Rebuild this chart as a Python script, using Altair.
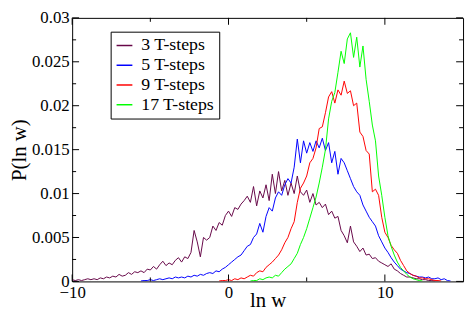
import altair as alt
import pandas as pd

# bin centres (ln w)
X = [-10.0, -9.8, -9.6, -9.4, -9.2, -9.0, -8.8, -8.6, -8.4, -8.2,
     -8.0, -7.8, -7.6, -7.4, -7.2, -7.0, -6.8, -6.6, -6.4, -6.2,
     -6.0, -5.8, -5.6, -5.4, -5.2, -5.0, -4.8, -4.6, -4.4, -4.2,
     -4.0, -3.8, -3.6, -3.4, -3.2, -3.0, -2.8, -2.6, -2.4, -2.2,
     -2.0, -1.8, -1.6, -1.4, -1.2, -1.0, -0.8, -0.6, -0.4, -0.2,
     0.0, 0.2, 0.4, 0.6, 0.8, 1.0, 1.2, 1.4, 1.6, 1.8,
     2.0, 2.2, 2.4, 2.6, 2.8, 3.0, 3.2, 3.4, 3.6, 3.8,
     4.0, 4.2, 4.4, 4.6, 4.8, 5.0, 5.2, 5.4, 5.6, 5.8,
     6.0, 6.2, 6.4, 6.6, 6.8, 7.0, 7.2, 7.4, 7.6, 7.8,
     8.0, 8.2, 8.4, 8.6, 8.8, 9.0, 9.2, 9.4, 9.6, 9.8,
     10.0, 10.2, 10.4, 10.6, 10.8, 11.0, 11.2, 11.4, 11.6, 11.8,
     12.0, 12.2, 12.4, 12.6, 12.8, 13.0, 13.2, 13.4, 13.6, 13.8,
     14.0, 14.2, 14.4]

N = None
# P(ln w) in units of 1e-4
S3 = [2, 1, 2, 1, 2, 3, 2, 3, 2, 4,
      3, 5, 4, 6, 5, 8, 6, 7, 10, 8,
      11, 10, 12, 10, 14, 13, 17, 14, 19, 23,
      18, 21, 19, 24, 27, 22, 28, 26, 33, 58,
      45, 28, 50, 47, 50, 63, 58, 67, 64, 75,
      80, 74, 84, 82, 88, 92, 97, 90, 108, 86,
      103, 95, 110, 92, 122, 100, 125, 103, 115, 98,
      112, 100, 120, 102, 98, 104, 90, 100, 87, 90,
      84, 88, 76, 80, 72, 74, 58, 52, 44, 63,
      45, 40, 34, 38, 30, 31, 26, 27, 23, 21,
      19, 17, 20, 14, 12, 9, 7, 5, 5, 4,
      3, 3, 2, 2, 1, 1, 0.5, N, N, N,
      N, N, N]
S5 = [N, N, N, N, N, N, N, N, N, N,
      N, N, N, N, N, N, N, N, N, N,
      N, N, 0.5, 1, 1, 2, 1, 2, 3, 2,
      3, 4, 3, 5, 4, 5, 4, 6, 5, 7,
      6, 8, 7, 9, 10, 9, 12, 11, 14, 16,
      19, 22, 25, 28, 30, 35, 40, 42, 50, 54,
      66, 56, 74, 84, 80, 95, 102, 98, 110, 117,
      112, 130, 162, 135, 160, 146, 158, 148, 160, 152,
      163, 149, 158, 135, 148, 122, 140, 135, 126, 117,
      108, 102, 98, 87, 80, 73, 68, 63, 52, 45,
      38, 33, 27, 22, 18, 14, 12, 10, 9, 7,
      6, 5, 5, 4, 5, 3, 3, 4, 2, 3,
      1, 0.5, N]
S9 = [N, N, N, N, N, N, N, N, N, N,
      N, N, N, N, N, N, N, N, N, N,
      N, N, N, N, N, N, N, N, N, N,
      N, N, N, N, N, N, N, N, N, N,
      N, N, N, N, N, N, N, 0.5, 1, 1,
      2, 1, 3, 2, 4, 3, 5, 7, 6, 10,
      12, 11, 16, 19, 22, 26, 30, 36, 44, 50,
      60, 68, 90, 106, 112, 120, 135, 140, 152, 174,
      176, 192, 210, 216, 203, 218, 212, 228, 214, 217,
      200, 203, 170, 165, 149, 145, 102, 105, 98, 73,
      56, 50, 41, 36, 32, 24, 18, 12, 9, 7,
      6, 4, 4, 3, 3, 2, 1, 1, 0.5, N,
      N, N, N]
S17 = [N, N, N, N, N, N, N, N, N, N,
       N, N, N, N, N, N, N, N, N, N,
       N, N, N, N, N, N, N, N, N, N,
       N, N, N, N, N, N, N, N, N, N,
       N, N, N, N, N, N, N, N, N, N,
       N, N, N, N, N, N, N, 0.5, 1, 1,
       3, 2, 4, 5, 4, 7, 6, 10, 14, 17,
       20, 26, 32, 42, 50, 60, 72, 84, 96, 112,
       130, 150, 185, 205, 215, 238, 262, 248, 276, 283,
       255, 278, 244, 268, 230, 205, 178, 160, 120, 98,
       73, 52, 40, 30, 22, 16, 12, 8, 5, 3,
       2, 1, 0.5, N, N, N, N, N, N, N,
       N, N, N]

SERIES = ["3 T-steps", "5 T-steps", "9 T-steps", "17 T-steps"]
COLORS = ["#670748", "#0000ff", "#ff0000", "#00ff00"]

X_MAJOR = [-10, 0, 10]
X_MINOR = [-5, 5]
Y_MAJOR = [0, 0.005, 0.01, 0.015, 0.02, 0.025, 0.03]
Y_MINOR = [0.0025, 0.0075, 0.0125, 0.0175, 0.0225, 0.0275]

rows = []
for name, vals in zip(SERIES, [S3, S5, S9, S17]):
    for x, v in zip(X, vals):
        if v is not None:
            rows.append({"x": x, "y": v * 1e-4, "series": name})
df = pd.DataFrame(rows)

W, H = 396, 267
FONT = "Liberation Serif"
xs = alt.Scale(domain=[-10, 15], nice=False, zero=False)
ys = alt.Scale(domain=[0, 0.03], nice=False, zero=False)

xaxis = alt.Axis(
    values=X_MAJOR, title="ln w", grid=False, ticks=False, domain=False,
    labelFont=FONT, labelFontSize=17, labelColor="black", labelPadding=3,
    labelFlush=False,
    titleFont=FONT, titleFontSize=21, titleFontWeight="normal", titleColor="black",
    titleBaseline="alphabetic", titleY=25)
yaxis = alt.Axis(
    values=Y_MAJOR, format="~g", title="P(ln w)", grid=False, ticks=False,
    domain=False, labelFont=FONT, labelFontSize=17, labelColor="black",
    labelPadding=3, labelFlush=False,
    titleFont=FONT, titleFontSize=21, titleFontWeight="normal", titleColor="black",
    titleBaseline="alphabetic", titleX=-47)

lines = alt.Chart(df).mark_line(strokeWidth=1, clip=True).encode(
    x=alt.X("x:Q", scale=xs, axis=xaxis),
    y=alt.Y("y:Q", scale=ys, axis=yaxis),
    color=alt.Color("series:N", scale=alt.Scale(domain=SERIES, range=COLORS),
                    legend=alt.Legend(
                        title=None, orient="none", legendX=39, legendY=14,
                        symbolType="stroke", symbolSize=256, symbolStrokeWidth=1.5,
                        labelFont=FONT, labelFontSize=18, labelColor="black",
                        labelOffset=8, rowPadding=2, padding=5,
                        strokeColor="black", fillColor="white", cornerRadius=0)),
)


def xticks(vals, y1, y2):
    return alt.Chart(pd.DataFrame({"x": vals})).mark_rule(
        color="black", strokeWidth=1).encode(
        x=alt.X("x:Q", scale=xs, axis=xaxis), y=alt.value(y1), y2=alt.value(y2))


def yticks(vals, x1, x2):
    return alt.Chart(pd.DataFrame({"y": vals})).mark_rule(
        color="black", strokeWidth=1).encode(
        y=alt.Y("y:Q", scale=ys, axis=yaxis), x=alt.value(x1), x2=alt.value(x2))


chart = alt.layer(
    lines,
    xticks(X_MAJOR, H, H - 7), xticks(X_MINOR, H, H - 4),
    xticks(X_MAJOR, 0, 7), xticks(X_MINOR, 0, 4),
    yticks(Y_MAJOR, 0, 7), yticks(Y_MINOR, 0, 4),
    yticks(Y_MAJOR, W, W - 7), yticks(Y_MINOR, W, W - 4),
).properties(
    width=W, height=H,
    autosize=alt.AutoSizeParams(type="none"),
    padding={"left": 65, "top": 8, "right": 3, "bottom": 30},
).configure_view(stroke="black", strokeWidth=1)

chart.save("out.html", embed_options={"renderer": "svg", "actions": False})
